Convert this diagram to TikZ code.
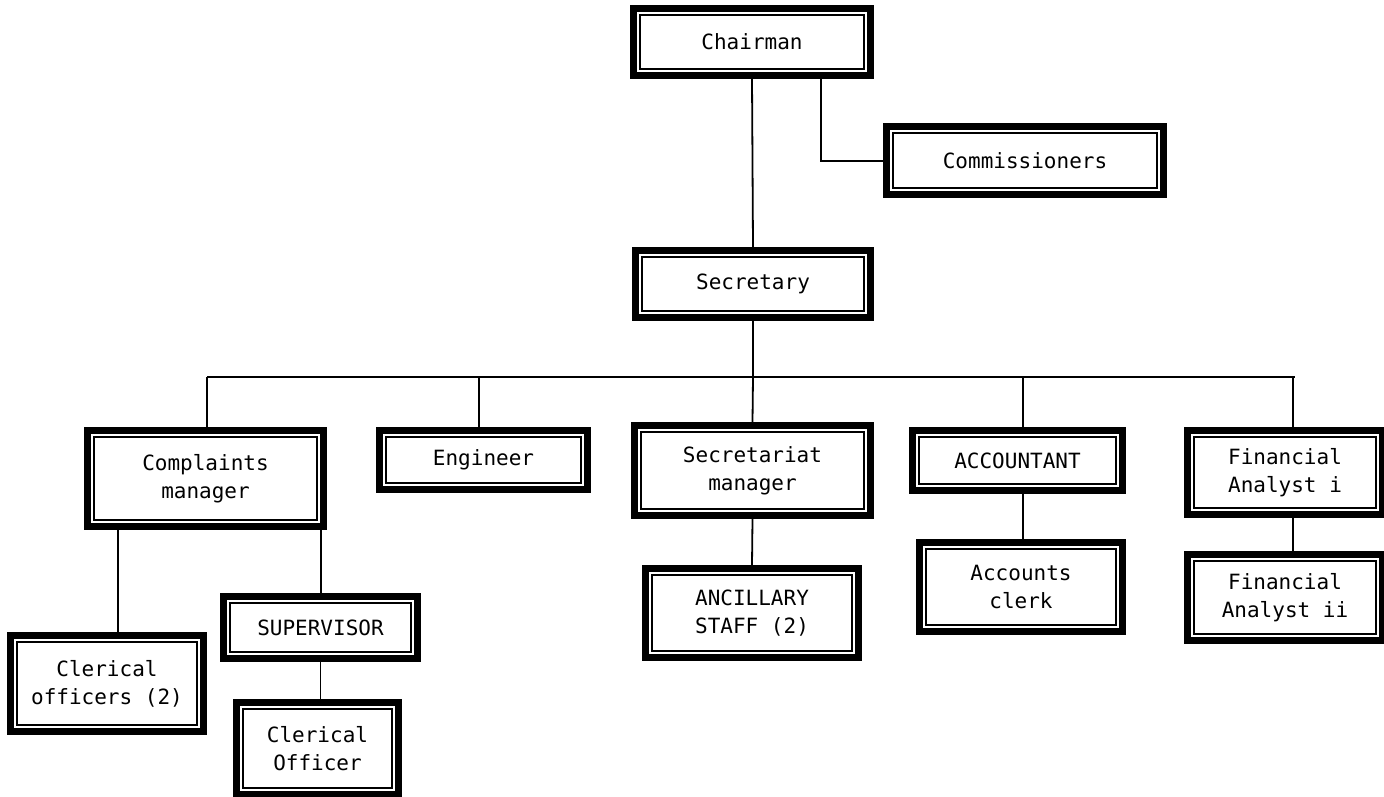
\documentclass[tikz,border=0pt]{standalone}
\usepackage{fontspec}
\newfontfamily\boxfont{DejaVu Sans Mono}
\usetikzlibrary{calc,fit}
\tikzset{
  conn/.style={line width=1.8pt, black},
  boxtext/.style={font=\boxfont\fontsize{21}{28}\selectfont, align=center, inner sep=0pt},
  boxframe/.style={inner sep=0pt, draw=none},
}
\newcommand\orgbox[4]{%
  \path #2 coordinate (#1-nw) #3 coordinate (#1-se);
  \fill[black] (#1-nw) rectangle (#1-se);
  \fill[white] ($(#1-nw)+(7,7)$) rectangle ($(#1-se)+(-7,-7)$);
  \draw[line width=2pt] ($(#1-nw)+(10,10)$) rectangle ($(#1-se)+(-10,-10)$);
  \node[boxframe, fit=(#1-nw)(#1-se)] (#1) {};
  \node[boxtext] (#1-t) at (#1.center) {#4};
}
\begin{document}
\begin{tikzpicture}[x=1pt,y=-1pt]
\useasboundingbox (0,0) rectangle (1384,796);
\fill[white] (0,0) rectangle (1384,796);

\orgbox{chair}{(630,5)}{(874,79)}{Chairman}
\orgbox{comm}{(883,123)}{(1167,198)}{Commissioners}
\orgbox{sec}{(632,247)}{(874,321)}{Secretary}
\orgbox{cmgr}{(84,427)}{(327,530)}{Complaints\\manager}
\orgbox{eng}{(376,427)}{(591,493)}{Engineer}
\orgbox{smgr}{(631,422)}{(874,519)}{Secretariat\\manager}
\orgbox{acct}{(909,427)}{(1126,494)}{ACCOUNTANT}
\orgbox{fa1}{(1184,427)}{(1386,518)}{Financial\\Analyst i}
\orgbox{clerk}{(916,539)}{(1126,635)}{Accounts\\clerk}
\orgbox{anc}{(642,565)}{(862,661)}{ANCILLARY\\STAFF (2)}
\orgbox{fa2}{(1184,551)}{(1386,644)}{Financial\\Analyst ii}
\orgbox{cloff}{(7,632)}{(207,735)}{Clerical\\officers (2)}
\orgbox{sup}{(220,593)}{(421,662)}{SUPERVISOR}
\orgbox{clo}{(233,699)}{(402,798)}{Clerical\\Officer}

% connectors
\coordinate (cb) at (821,161);
\coordinate (bL) at (207,377);
\coordinate (bR) at (1295,377);
\coordinate (dEng) at (479,377);
\coordinate (dAcc) at (1023,377);
\coordinate (dFa) at (1293,377);
\coordinate (xCo) at (118,530);
\coordinate (xSup) at (321,530);

\draw[conn] (chair.south) -- (sec.north);
\draw[conn] (chair.south -| cb) -- (cb) -- (comm.west |- cb);
\draw[conn] (sec.south) -- (sec.south |- bL);
\draw[conn] (bL) -- (bR);
\draw[conn] (bL) -- (bL |- cmgr.north);
\draw[conn] (dEng) -- (dEng |- eng.north);
\draw[conn] (sec.south |- bL) -- (smgr.north);
\draw[conn] (dAcc) -- (dAcc |- acct.north);
\draw[conn] (dFa) -- (dFa |- fa1.north);
\draw[conn] (xCo) -- (xCo |- cloff.north);
\draw[conn] (xSup) -- (xSup |- sup.north);
\draw[conn] (sup.south) -- (sup.south |- clo.north);
\draw[conn] (smgr.south) -- (anc.north);
\draw[conn] (acct.south -| dAcc) -- (dAcc |- clerk.north);
\draw[conn] (fa1.south -| dFa) -- (dFa |- fa2.north);
\end{tikzpicture}
\end{document}
